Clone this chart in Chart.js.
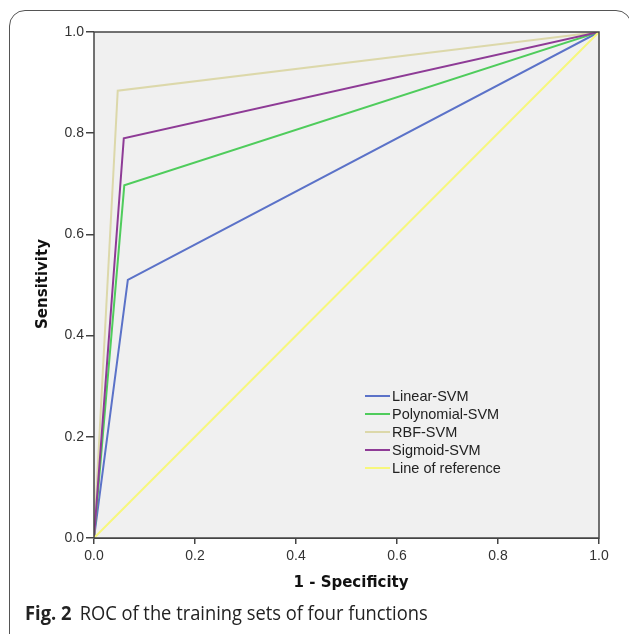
<!DOCTYPE html>
<html lang="en">
<head>
    <meta charset="UTF-8" />
    <title>ROC of the training sets</title>
    <script src="https://cdn.jsdelivr.net/npm/chart.js"></script>
    <style>
        html, body { margin: 0; padding: 0; background: #fff; overflow: hidden; }
        .frame {
            position: absolute; left: 9px; top: 10px; width: 623px; height: 640px;
            border: 1.5px solid #555; border-radius: 16px; box-sizing: border-box;
        }
        #wrap { position: absolute; left: 0; top: 0; width: 629px; height: 634px; }
        .caption {
            position: absolute; left: 25px; top: 599px; white-space: nowrap;
            font-family: 'Open Sans', sans-serif; font-size: 20px; color: #222;
            transform: scaleX(0.915); transform-origin: left top;
        }
        .caption b { margin-right: 9px; }
    </style>
</head>
<body>
    <div class="frame"></div>
    <div id="wrap"><canvas id="roc" width="629" height="634"></canvas></div>
    <div class="caption"><b>Fig. 2</b>ROC of the training sets of four functions</div>

    <script>
        // ROC points (1 - specificity, sensitivity)
        const linearX = [0, 0.067, 1];
        const linearY = [0, 0.51, 1];
        const polyX = [0, 0.060, 1];
        const polyY = [0, 0.697, 1];
        const rbfX = [0, 0.047, 1];
        const rbfY = [0, 0.884, 1];
        const sigmoidX = [0, 0.059, 1];
        const sigmoidY = [0, 0.790, 1];
        const refX = [0, 1];
        const refY = [0, 1];

        const seriesNames = ['Linear-SVM', 'Polynomial-SVM', 'RBF-SVM', 'Sigmoid-SVM', 'Line of reference'];
        const seriesColors = ['#5b72c8', '#4fcc5c', '#dcd8aa', '#8e3b96', '#f7f77c'];
        const tickValues = [0, 0.2, 0.4, 0.6, 0.8, 1.0];

        const pts = (xs, ys) => xs.map((x, i) => ({ x: x, y: ys[i] }));
        const allSeries = [
            pts(linearX, linearY),
            pts(polyX, polyY),
            pts(rbfX, rbfY),
            pts(sigmoidX, sigmoidY),
            pts(refX, refY)
        ];

        const font = "'Liberation Sans', Arial, sans-serif";
        const titleFont = "'DejaVu Sans', sans-serif";

        const plotDecor = {
            id: 'plotDecor',
            beforeDatasetsDraw(chart) {
                const { ctx, chartArea: a } = chart;
                ctx.save();
                ctx.fillStyle = '#f0f0f0';
                ctx.fillRect(a.left, a.top, a.right - a.left, a.bottom - a.top);
                ctx.restore();
            },
            afterDraw(chart) {
                const { ctx, chartArea: a } = chart;
                ctx.save();
                ctx.strokeStyle = '#444';
                ctx.lineWidth = 1.5;
                ctx.strokeRect(a.left, a.top, a.right - a.left, a.bottom - a.top);

                // axis titles
                ctx.fillStyle = '#111';
                ctx.font = 'bold 15px ' + titleFont;
                ctx.textAlign = 'center';
                ctx.textBaseline = 'middle';
                ctx.fillText('1 - Specificity', 351, 583);
                ctx.translate(43, 284);
                ctx.rotate(-Math.PI / 2);
                ctx.fillText('Sensitivity', 0, 0);
                ctx.restore();

                // legend inside the plot, in series order
                ctx.save();
                ctx.font = '14.5px ' + font;
                ctx.textAlign = 'left';
                ctx.textBaseline = 'middle';
                seriesNames.forEach((name, i) => {
                    const y = 396 + i * 18;
                    ctx.strokeStyle = seriesColors[i];
                    ctx.lineWidth = 2;
                    ctx.beginPath();
                    ctx.moveTo(365, y);
                    ctx.lineTo(390, y);
                    ctx.stroke();
                    ctx.fillStyle = '#222';
                    ctx.fillText(name, 392, y + 1);
                });
                ctx.restore();
            }
        };

        new Chart(document.getElementById('roc').getContext('2d'), {
            type: 'line',
            data: {
                datasets: allSeries.map((d, i) => ({
                    label: seriesNames[i],
                    data: d,
                    borderColor: seriesColors[i],
                    borderWidth: 2,
                    pointRadius: 0,
                    fill: false,
                    tension: 0
                })).reverse()
            },
            options: {
                responsive: false,
                animation: false,
                layout: { padding: { left: 0, top: 32, right: 30, bottom: 0 } },
                plugins: { legend: { display: false }, tooltip: { enabled: false } },
                scales: {
                    x: {
                        type: 'linear', min: 0, max: 1,
                        afterBuildTicks: s => { s.ticks = tickValues.map(v => ({ value: v })); },
                        afterFit: s => { s.height = 96; },
                        ticks: { color: '#333', padding: 4, font: { family: font, size: 14 }, callback: v => v.toFixed(1) },
                        grid: { drawOnChartArea: false, drawTicks: true, tickLength: 6, color: '#444', lineWidth: 1.5 },
                        border: { color: '#444' }
                    },
                    y: {
                        type: 'linear', min: 0, max: 1,
                        afterBuildTicks: s => { s.ticks = tickValues.map(v => ({ value: v })); },
                        afterFit: s => { s.width = 94; },
                        ticks: { color: '#333', padding: 2, font: { family: font, size: 14 }, callback: v => v.toFixed(1) },
                        grid: { drawOnChartArea: false, drawTicks: true, tickLength: 8, color: '#444', lineWidth: 1.5 },
                        border: { color: '#444' }
                    }
                }
            },
            plugins: [plotDecor]
        });
    </script>
</body>
</html>
